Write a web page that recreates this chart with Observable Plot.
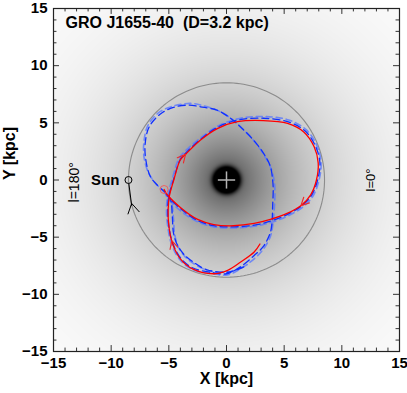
<!DOCTYPE html>
<html><head><meta charset="utf-8">
<script src="https://cdn.jsdelivr.net/npm/d3@7"></script>
<script src="https://cdn.jsdelivr.net/npm/@observablehq/plot@0.6"></script>
<style>body{margin:0;background:#fff}</style>
</head><body><div id="chart"></div>
<script>
const titleText = "GRO J1655-40  (D=3.2 kpc)";
const majorTicks = [-15, -10, -5, 0, 5, 10, 15];
const minorTicks = [-14,-13,-12,-11,-9,-8,-7,-6,-4,-3,-2,-1,1,2,3,4,6,7,8,9,11,12,13,14];

// red solid orbit (time order, ends at present position)
const redX = [2.9,2.4,1.2,0.1,-1.1,-2.9,-4.0,-4.7,-5.0,-5.06,-4.95,-4.57,-4.0,-3.5,-2.25,-0.8,0.95,3.2,5.3,6.7,7.6,7.95,7.8,7.3,6.5,5.3,3.8,2.4,0.6,-1.1,-2.5,-4.0,-5.15,-5.41];
const redY = [-5.6,-6.3,-7.2,-7.9,-8.2,-7.8,-6.9,-5.5,-4.0,-2.6,-1.4,0.0,1.77,2.3,3.5,4.5,5.1,5.2,4.95,4.2,2.9,1.5,0.0,-1.3,-2.2,-2.9,-3.45,-3.8,-4.0,-3.9,-3.45,-2.4,-1.27,-0.83];

// blue dashed orbits
const blueAX = [1.5,0.2,-1.7,-2.85,-3.7,-4.3,-4.6,-4.7,-4.86,-5.3,-5.9,-6.6,-7.0,-7.05,-6.7,-5.7,-4.6,-3.3,-2.25,-0.8,0.35,1.2,2.2,3.2,3.8,4.0,4.05,4.0,3.96,3.8,3.2,2.4,1.2,0.0,-1.2,-2.9,-4.0,-4.7,-5.0,-5.1,-5.0,-4.6,-4.0,-3.4,-2.2,-0.8,1.0,3.2,5.3,6.8,7.7,8.1,7.9,7.4,6.6,5.3,3.8,2.4,0.6,-1.1,-2.5,-4.0,-5.15,-5.41];
const blueAY = [-7.6,-8.05,-7.85,-7.2,-6.5,-5.6,-4.6,-3.15,-1.7,-1.1,-0.55,0.3,1.8,3.2,4.65,5.8,6.35,6.55,6.4,6.1,5.4,4.65,3.65,2.35,1.2,0.0,-0.8,-2.3,-3.45,-4.6,-5.8,-6.6,-7.6,-8.2,-8.1,-7.7,-6.8,-5.4,-4.0,-2.6,-1.4,0.0,1.8,2.5,3.6,4.6,5.25,5.4,5.1,4.3,3.0,1.5,0.0,-1.3,-2.2,-3.0,-3.6,-3.95,-4.1,-4.0,-3.55,-2.5,-1.35,-0.83];
const blueBX = [1.8,0.4,-1.5,-2.7,-3.6,-4.2,-4.5,-4.6,-4.8,-5.4,-6.1,-6.75,-7.15,-7.15,-6.8,-5.8,-4.5,-3.1,-2.0,-0.6,0.5,1.4,2.4,3.3,3.9,4.15,4.2,4.15,4.05,3.85,3.3,2.5,1.3,0.1,-1.2,-3.0,-4.1,-4.8,-5.1,-5.2,-5.1,-4.7,-4.1,-3.4,-2.1,-0.6,1.2,3.3,5.4,6.9,7.8,8.2,8.0,7.5,6.7,5.4,3.9,2.4,0.6,-1.1,-2.6,-4.1,-5.2,-5.41];
const blueBY = [-7.4,-8.0,-7.95,-7.4,-6.7,-5.8,-4.7,-3.3,-1.9,-1.05,-0.35,0.6,2.0,3.4,4.8,5.95,6.5,6.7,6.5,6.0,5.3,4.45,3.4,2.1,0.9,-0.2,-1.0,-2.4,-3.6,-4.8,-5.9,-6.8,-7.7,-8.3,-8.2,-7.8,-6.9,-5.5,-4.0,-2.6,-1.4,0.1,1.9,2.7,3.8,4.8,5.4,5.55,5.25,4.4,3.1,1.5,-0.1,-1.4,-2.3,-3.1,-3.7,-4.05,-4.2,-4.1,-3.6,-2.6,-1.4,-0.83];

// direction arrows on the red orbit: tail (x1,y1) -> tip (x2,y2)
const arrowX1 = [-4.1, 7.0, -4.55];
const arrowY1 = [1.6, -1.7, -6.0];
const arrowX2 = [-3.55, 6.45, -4.75];
const arrowY2 = [2.25, -2.25, -5.3];

// present position of the source and the Sun
const sourceX = [-5.41], sourceY = [-0.83];
const sunX = [-8.5], sunY = [0];
const sunLabel = ["Sun"];
// Sun track and its arrowhead
const sunX1 = [-8.47, -8.22, -8.22];
const sunY1 = [-0.3, -2.05, -2.05];
const sunX2 = [-8.22, -8.55, -7.55];
const sunY2 = [-2.25, -3.0, -2.8];

const solarRadius = 8.5;
const circleAngles = d3.range(0, 361, 2);

const labelL180 = "l=180°", labelL0 = "l=0°";

function galaxy(x, y) {
  const r = Math.hypot(x, y);
  const v = 1 - 0.74 * Math.exp(-r / 6) - Math.exp(-Math.pow(r / 1.15, 4));
  return Math.max(0, Math.min(1, v));
}

const arrowsData = arrowX1.map((d, i) => ({x1: d, y1: arrowY1[i], x2: arrowX2[i], y2: arrowY2[i]}));
const sunSegs = sunX1.map((d, i) => ({x1: d, y1: sunY1[i], x2: sunX2[i], y2: sunY2[i]}));
const circle = circleAngles.map(a => ({x: solarRadius * Math.cos(a * Math.PI / 180), y: solarRadius * Math.sin(a * Math.PI / 180)}));
const red = redX.map((d, i) => ({x: d, y: redY[i]}));
const blueA = blueAX.map((d, i) => ({x: d, y: blueAY[i]}));
const blueB = blueBX.map((d, i) => ({x: d, y: blueBY[i]}));

const openHead = {
  draw(context) {
    context.moveTo(-4, 8);
    context.lineTo(0, 0);
    context.lineTo(4, 8);
  }
};

const tickLen = 0.52, minorLen = 0.3;
const F = "Liberation Sans, Arial, Helvetica, sans-serif";

const chart = Plot.plot({
  width: 407, height: 393,
  marginLeft: 53, marginRight: 8, marginTop: 8, marginBottom: 42,
  x: {domain: [-15, 15], axis: null},
  y: {domain: [-15, 15], axis: null},
  color: {type: "linear", domain: [0, 1], range: ["#000000", "#ffffff"]},
  style: {fontFamily: F, background: "#fff"},
  marks: [
    Plot.raster({x1: -15, x2: 15, y1: -15, y2: 15, fill: galaxy, pixelSize: 1}),
    // solar circle
    Plot.line(circle, {x: "x", y: "y", stroke: "#8c8c8c", strokeWidth: 1.1}),
    // center cross
    Plot.link([{x1: -0.75, y1: 0, x2: 0.75, y2: 0}, {x1: 0, y1: -0.75, x2: 0, y2: 0.75}], {x1: "x1", y1: "y1", x2: "x2", y2: "y2", stroke: "#b4b4b4", strokeWidth: 1.5}),
    // blue dashed orbits
    Plot.line(blueB, {x: "x", y: "y", stroke: "#5a78ff", strokeWidth: 1.6, strokeOpacity: 0.8, strokeDasharray: "6,4", strokeDashoffset: 4, curve: "catmull-rom"}),
    Plot.line(blueA, {x: "x", y: "y", stroke: "#1030ff", strokeWidth: 1.3, strokeDasharray: "7,4", curve: "catmull-rom"}),
    // red orbit
    Plot.line(red, {x: "x", y: "y", stroke: "#ff0000", strokeWidth: 1.3, curve: "catmull-rom"}),
    Plot.vector(arrowsData, {x: "x2", y: "y2", length: 8, anchor: "start", shape: openHead,
      rotate: d => Math.atan2(d.x2 - d.x1, d.y2 - d.y1) * 180 / Math.PI,
      stroke: "#f02828", strokeWidth: 1.1}),
    Plot.dot(sourceX.map((d, i) => ({x: d, y: sourceY[i]})), {x: "x", y: "y", r: 4, stroke: "#f06060", strokeWidth: 1, fill: "none"}),
    // Sun
    Plot.link(sunSegs, {x1: "x1", y1: "y1", x2: "x2", y2: "y2", stroke: "#000", strokeWidth: 1}),
    Plot.dot(sunX.map((d, i) => ({x: d, y: sunY[i]})), {x: "x", y: "y", r: 3.5, stroke: "#000", strokeWidth: 1, fill: "none"}),
    Plot.text(sunX.map((d, i) => ({x: d, y: sunY[i], t: sunLabel[i]})), {x: "x", y: "y", text: "t", dx: -9, textAnchor: "end", fontSize: 15, fontWeight: "bold", fill: "#000"}),
    // longitude labels
    Plot.text([labelL180], {x: -13.2, y: -0.2, text: d => d, rotate: -90, fontSize: 14, fill: "#000"}),
    Plot.text([labelL0], {x: 12.5, y: 0, text: d => d, rotate: -90, fontSize: 13, fill: "#000"}),
    // title
    Plot.text([titleText], {frameAnchor: "top-left", dx: 12, dy: 19, text: d => d, textAnchor: "start", lineAnchor: "bottom", fontSize: 16, fontWeight: "bold", fill: "#000"}),
    // ticks on all four sides (inward)
    Plot.ruleX(majorTicks, {x: d => d, y1: -15, y2: -15 + tickLen, stroke: "#333"}),
    Plot.ruleX(majorTicks, {x: d => d, y1: 15, y2: 15 - tickLen, stroke: "#333"}),
    Plot.ruleX(minorTicks, {x: d => d, y1: -15, y2: -15 + minorLen, stroke: "#333"}),
    Plot.ruleX(minorTicks, {x: d => d, y1: 15, y2: 15 - minorLen, stroke: "#333"}),
    Plot.ruleY(majorTicks, {y: d => d, x1: -15, x2: -15 + tickLen, stroke: "#333"}),
    Plot.ruleY(majorTicks, {y: d => d, x1: 15, x2: 15 - tickLen, stroke: "#333"}),
    Plot.ruleY(minorTicks, {y: d => d, x1: -15, x2: -15 + minorLen, stroke: "#333"}),
    Plot.ruleY(minorTicks, {y: d => d, x1: 15, x2: 15 - minorLen, stroke: "#333"}),
    Plot.frame({stroke: "#222", strokeWidth: 1.2}),
    // tick labels
    Plot.axisX(majorTicks, {anchor: "bottom", tickSize: 0, tickPadding: 6, fontSize: 15, fontWeight: "bold", label: null, fill: "#000"}),
    Plot.axisY(majorTicks, {anchor: "left", tickSize: 0, tickPadding: 6, fontSize: 15, fontWeight: "bold", label: null, fill: "#000"}),
    // axis titles
    Plot.text(["X [kpc]"], {frameAnchor: "bottom", dy: 32, text: d => d, fontSize: 16, fontWeight: "bold", fill: "#000"}),
    Plot.text(["Y [kpc]"], {frameAnchor: "left", dx: -44, text: d => d, rotate: -90, fontSize: 16, fontWeight: "bold", fill: "#000"})
  ]
});
document.getElementById("chart").appendChild(chart);
</script>
</body></html>
